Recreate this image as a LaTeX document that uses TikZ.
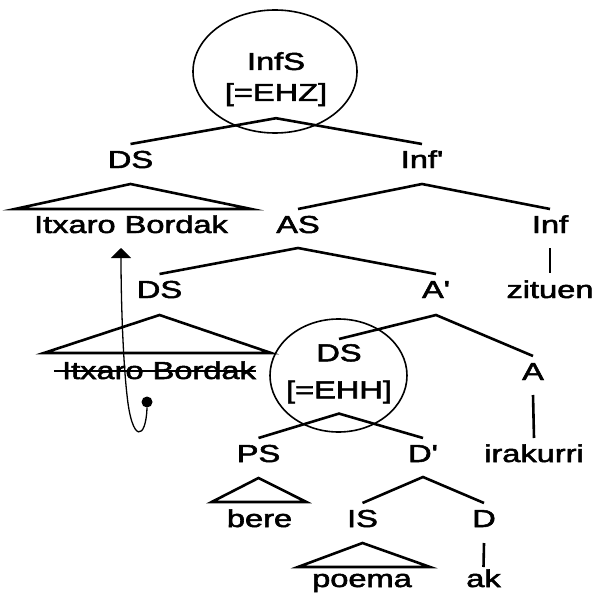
\documentclass[tikz,border=0pt]{standalone}
\usepackage{fontspec}
\setmainfont{Liberation Sans}[FakeBold=2]
\usepackage{tikz}
\usetikzlibrary{arrows.meta}
\tikzstyle{cat} = [font=\fontsize{24.5}{31}\selectfont, xscale=1.33, inner sep=0pt, anchor=base]
\tikzstyle{circled} = [font=\fontsize{24.5}{31}\selectfont, xscale=1.33, inner sep=0pt, anchor=north, align=center]
\tikzstyle{branch} = [line width=2.6pt]
\tikzstyle{ring} = [line width=1.6pt]
\tikzstyle{strike} = [line width=2.2pt]
\tikzstyle{movearrow} = [line width=1.3pt, -{Triangle[width=20pt,length=10pt]}]
\tikzstyle{trace} = [circle, fill=black, inner sep=0pt, minimum size=11pt]

\begin{document}
\begin{tikzpicture}[x=1pt, y=-1pt]
\useasboundingbox (0,0) rectangle (595,596);

% categories and words
\node (infs) [circled] at (276,52) {InfS\\{[=EHZ]}};
\node (ds1) [cat] at (130.5,168) {DS};
\node (infbar) [cat] at (422,168) {Inf\textquotesingle};
\node (itx1) [cat] at (131,233) {Itxaro Bordak};
\node (as) [cat] at (298,233) {AS};
\node (inf) [cat] at (550,233) {Inf};
\node (ds2) [cat] at (159.5,298) {DS};
\node (abar) [cat] at (436,298) {A\textquotesingle};
\node (zituen) [cat] at (550,298) {zituen};
\node (itx2) [cat] at (159,379) {Itxaro Bordak};
\node (dsehh) [circled] at (339,344) {DS\\[6pt]{[=EHH]}};
\node (a) [cat] at (533,380) {A};
\node (ps) [cat] at (258.5,462) {PS};
\node (dbar) [cat] at (423,462) {D\textquotesingle};
\node (irakurri) [cat] at (534,462) {irakurri};
\node (bere) [cat] at (259.5,527) {bere};
\node (is) [cat] at (362.5,527) {IS};
\node (d) [cat] at (484,527) {D};
\node (poema) [cat] at (362,587) {poema};
\node (ak) [cat] at (483.5,587) {ak};

% rings
\draw [ring] (275,71.5) ellipse [x radius=82pt, y radius=61.5pt];
\draw [ring] (338.5,375.5) ellipse [x radius=68.5pt, y radius=56.5pt];

% branches
\draw [branch] ([yshift=24pt]ds1.base) -- ([yshift=-12pt]infs.south) -- ([yshift=24pt]infbar.base);
\draw [branch] ([yshift=24pt]as.base) -- ([yshift=-16pt]infbar.base) -- ([yshift=24pt]inf.base);
\draw [branch] ([yshift=24pt]ds2.base) -- ([yshift=-15pt]as.base) -- ([yshift=24pt]abar.base);
\draw [branch] ([yshift=5pt]dsehh.north) -- ([yshift=-17pt]abar.base) -- ([yshift=24pt]a.base);
\draw [branch] ([yshift=24pt]ps.base) -- ([yshift=-10pt]dsehh.south) -- ([yshift=24pt]dbar.base);
\draw [branch] ([yshift=24pt]is.base) -- ([yshift=-15pt]dbar.base) -- ([yshift=24pt]d.base);
\draw [branch] ([yshift=-15pt]inf.base) -- ([yshift=25pt]zituen.base);
\draw [branch] ([yshift=-15pt]a.base) -- ([yshift=24pt]irakurri.base);
\draw [branch] ([yshift=-16pt]d.base) -- ([yshift=20pt]ak.base);

% roofs
\draw [branch] ([yshift=-16pt]ds1.base) -- ([xshift=-19pt,yshift=24pt]itx1.base west) -- ([xshift=23pt,yshift=24pt]itx1.base east) -- cycle;
\draw [branch] ([yshift=-17pt]ds2.base) -- ([xshift=-18pt,yshift=26pt]itx2.base west) -- ([xshift=15pt,yshift=26pt]itx2.base east) -- cycle;
\draw [branch] ([yshift=-16pt]ps.base) -- ([xshift=-15pt,yshift=25pt]bere.base west) -- ([xshift=14pt,yshift=25pt]bere.base east) -- cycle;
\draw [branch] ([yshift=-16pt]is.base) -- ([xshift=-14pt,yshift=20pt]poema.base west) -- ([xshift=18pt,yshift=20pt]poema.base east) -- cycle;

% struck copy and movement
\draw [strike] ([xshift=-8pt,yshift=8pt]itx2.base west) -- ([yshift=8pt]itx2.base east);
\node (trace) [trace] at (147,402) {};
\coordinate (landing) at (121,248);
\draw [movearrow] (trace.south) .. controls (146,440) and (132,444) .. (127,395) .. controls (123,360) and (121,300) .. (landing);

\end{tikzpicture}
\end{document}
